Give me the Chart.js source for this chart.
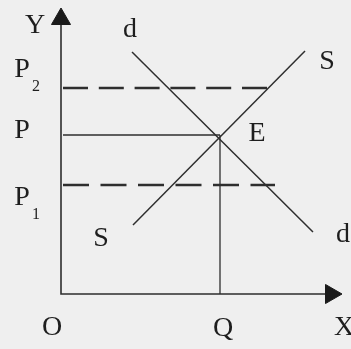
<!DOCTYPE html>
<html>
<head>
<meta charset="utf-8">
<script src="https://cdn.jsdelivr.net/npm/chart.js@4.4.1/dist/chart.umd.min.js"></script>
<style>
  html, body { margin: 0; padding: 0; background: #efefef; }
  #wrap { width: 351px; height: 349px; }
</style>
</head>
<body>
<div id="wrap"><canvas id="chart"></canvas></div>
<script>
// quantity / price units, origin O at the axes corner
const demandQ = [71, 252];
const demandP = [242, 62];
const supplyQ = [72, 244];
const supplyP = [69, 243];

const priceNames = ['P', 'P', 'P'];
const priceSubs = ['2', '', '1'];
const priceValues = [206, 159, 109];
const priceLineEnds = [207, 159, 214];

const eqQ = 159;
const eqP = 159;

const axisMaxQ = 270;
const axisMaxP = 275;

const lineColor = '#2e2e2e';
// dash pattern of each price line (empty = solid)
const priceDash = [[25, 10.8], [], [26, 11.5]];

function pts(xs, ys) {
    return xs.map(function (x, i) { return { x: x, y: ys[i] }; });
}

const datasets = [];

// axes with arrow heads
datasets.push({
    data: [{ x: 0, y: axisMaxP }, { x: 0, y: 0 }, { x: axisMaxQ, y: 0 }],
    showLine: true,
    borderColor: lineColor,
    borderWidth: 1.6,
    pointStyle: 'triangle',
    pointRadius: [11, 0, 11],
    pointRotation: [0, 0, 90],
    pointBackgroundColor: '#1a1a1a',
    pointBorderColor: '#1a1a1a',
    pointBorderWidth: 1
});

// demand and supply
datasets.push({ data: pts(demandQ, demandP), showLine: true, borderColor: lineColor, borderWidth: 1.5, pointRadius: 0 });
datasets.push({ data: pts(supplyQ, supplyP), showLine: true, borderColor: lineColor, borderWidth: 1.5, pointRadius: 0 });

// price levels
priceValues.forEach(function (p, i) {
    const dashed = priceDash[i].length > 0;
    datasets.push({
        data: [{ x: 2, y: p }, { x: priceLineEnds[i], y: p }],
        showLine: true,
        borderColor: lineColor,
        borderWidth: dashed ? 2.4 : 1.3,
        borderDash: priceDash[i],
        pointRadius: 0
    });
});

// equilibrium quantity drop line
datasets.push({
    data: [{ x: eqQ, y: eqP }, { x: eqQ, y: 0 }],
    showLine: true,
    borderColor: lineColor,
    borderWidth: 1.3,
    pointRadius: 0
});

// text labels: [text, subscript, q, p, dx, dy]
const textLabels = [
    ['Y', '', 0, axisMaxP, -26, 7],
    ['d', '', demandQ[0], demandP[0], -2, -22],
    ['d', '', demandQ[1], demandP[1], 30, 3],
    ['S', '', supplyQ[0], supplyP[0], -32, 14],
    ['S', '', supplyQ[1], supplyP[1], 22, 11],
    ['E', '', eqQ, eqP, 37, -1],
    ['O', '', 0, 0, -9, 34],
    ['Q', '', eqQ, 0, 3, 35],
    ['X', '', axisMaxQ, 0, 13, 34]
];
const priceLabelShift = [-18, -4, 13];
priceValues.forEach(function (p, i) {
    textLabels.push([priceNames[i], priceSubs[i], 0, p, -39, priceLabelShift[i]]);
});

const labelPlugin = {
    id: 'labels',
    afterDatasetsDraw: function (chart) {
        const ctx = chart.ctx;
        const xs = chart.scales.x, ys = chart.scales.y;
        ctx.save();
        ctx.fillStyle = '#1e1e1e';
        ctx.textAlign = 'center';
        ctx.textBaseline = 'middle';
        textLabels.forEach(function (l) {
            const px = xs.getPixelForValue(l[2]) + l[4];
            const py = ys.getPixelForValue(l[3]) + l[5];
            ctx.font = '28px "Liberation Serif", "Times New Roman", serif';
            ctx.fillText(l[0], px, py);
            if (l[1]) {
                ctx.font = '16px "Liberation Serif", "Times New Roman", serif';
                ctx.fillText(l[1], px + 14, py + 17);
            }
        });
        ctx.restore();
    }
};

new Chart(document.getElementById('chart'), {
    type: 'scatter',
    data: { datasets: datasets },
    options: {
        responsive: true,
        maintainAspectRatio: false,
        animation: false,
        layout: { padding: 0, autoPadding: false },
        scales: {
            x: { type: 'linear', display: false, min: -61, max: 290 },
            y: { type: 'linear', display: false, min: -55, max: 294 }
        },
        plugins: {
            legend: { display: false },
            tooltip: { enabled: false }
        }
    },
    plugins: [labelPlugin]
});
</script>
</body>
</html>
